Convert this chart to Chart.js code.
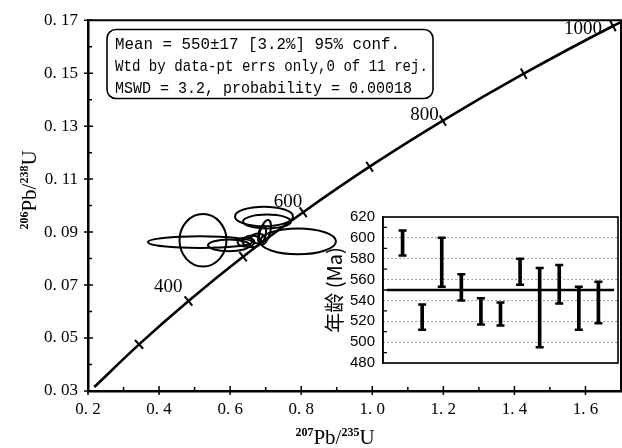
<!DOCTYPE html>
<html>
<head>
<meta charset="utf-8">
<script src="https://cdn.jsdelivr.net/npm/chart.js@4.4.0/dist/chart.umd.min.js"></script>
<style>
html, body { margin: 0; padding: 0; background: #fff; }
#wrap { position: relative; width: 622px; height: 448px; }
#main { position: absolute; left: 0; top: 0; }
#inset { position: absolute; left: 322px; top: 200px; }
</style>
</head>
<body>
<div id="wrap">
<canvas id="main" width="622" height="448"></canvas>
<canvas id="inset" width="300" height="180"></canvas>
</div>
<script>
Chart.defaults.color = '#000'
Chart.defaults.font.family = 'Liberation Serif'

// concordia (207Pb/235U, 206Pb/238U, age Ma)
const concX   = [0.2177, 0.3437, 0.4828, 0.6363, 0.8056, 0.9925, 1.1987, 1.4263, 1.6774, 1.700]
const concY   = [0.0315, 0.0476, 0.0640, 0.0807, 0.0975, 0.1147, 0.1321, 0.1498, 0.1678, 0.1693]
const concAge = [200, 300, 400, 500, 600, 700, 800, 900, 1000, null]
const ageLabels = [400, 600, 800, 1000]

// error ellipses: centre, half-widths, correlation
const ellX   = [0.5236, 0.5152, 0.5968, 0.6447, 0.6615, 0.6953, 0.7038, 0.6981, 0.6897, 0.7910, 0.6784]
const ellY   = [0.0869, 0.0862, 0.0850, 0.0862, 0.0865, 0.0959, 0.0940, 0.0899, 0.0891, 0.0865, 0.0876]
const ellSx  = [0.0661, 0.1463, 0.0591, 0.0239, 0.0267, 0.0816, 0.0675, 0.0169, 0.0113, 0.1069, 0.0197]
const ellSy  = [0.0099, 0.0022, 0.0022, 0.0017, 0.0022, 0.0037, 0.0026, 0.0047, 0.0034, 0.0049, 0.0019]
const ellRho = [0, 0, 0, 0, 0, 0, 0, 0.5, 0.4, 0, 0]

// main axes ticks
const xTicks = [0.2, 0.4, 0.6, 0.8, 1.0, 1.2, 1.4, 1.6]
const xMinor = [0.3, 0.5, 0.7, 0.9, 1.1, 1.3, 1.5]
const yTicks = [0.03, 0.05, 0.07, 0.09, 0.11, 0.13, 0.15, 0.17]
const yMinor = [0.04, 0.06, 0.08, 0.10, 0.12, 0.14, 0.16]

// inset: ages of the 11 spots (Ma)
const spot  = [1, 2, 3, 4, 5, 6, 7, 8, 9, 10, 11]
const ageLo = [583, 512, 553, 540, 517, 516, 555, 495, 537, 512, 518]
const ageHi = [607, 536, 600, 565, 542, 538, 580, 571, 574, 553, 558]
const meanAge = 550
const insetTicks = [480, 500, 520, 540, 560, 580, 600, 620]
const insetMinor = [490, 510, 530, 550, 570, 590, 610]

const boxLines = [
    'Mean = 550±17 [3.2%] 95% conf.',
    'Wtd by data-pt errs only,0 of 11 rej.',
    'MSWD = 3.2, probability = 0.00018'
]

// titulo con superindices
const drawIso = (ctx, parts, cx, cy) => {
    const f = p => p[1] ? 'bold 12px Liberation Serif' : '21px Liberation Serif'
    let w = 0
    parts.forEach(p => { ctx.font = f(p); w += ctx.measureText(p[0]).width })
    let x = cx - w / 2
    parts.forEach(p => {
        ctx.font = f(p)
        ctx.fillText(p[0], x, p[1] ? cy - 8 : cy)
        x += ctx.measureText(p[0]).width
    })
}

const mainDeco = {
    id: 'mainDeco',
    beforeDatasetsDraw(chart) {
        const { ctx, chartArea: a, scales: { x, y } } = chart
        ctx.save()
        ctx.beginPath()
        ctx.rect(a.left, a.top, a.right - a.left, a.bottom - a.top)
        ctx.clip()
        ctx.strokeStyle = '#000'
        ctx.lineWidth = 2
        ellX.forEach((ex, i) => {
            const cx = x.getPixelForValue(ex)
            const cy = y.getPixelForValue(ellY[i])
            const rx = x.getPixelForValue(ex + ellSx[i]) - cx
            const ry = cy - y.getPixelForValue(ellY[i] + ellSy[i])
            const A = rx * rx, C = ry * ry, B = -ellRho[i] * rx * ry
            const th = 0.5 * Math.atan2(2 * B, A - C)
            const m = (A + C) / 2, d = Math.sqrt(((A - C) / 2) ** 2 + B * B)
            ctx.beginPath()
            ctx.ellipse(cx, cy, Math.sqrt(m + d), Math.sqrt(Math.max(m - d, 0.5)), th, 0, Math.PI * 2)
            ctx.stroke()
        })
        ctx.restore()
    },
    afterDraw(chart) {
        const { ctx, chartArea: a, scales: { x, y } } = chart
        ctx.save()
        ctx.strokeStyle = '#000'
        // marcas de los ejes
        ctx.lineWidth = 1.5
        ctx.beginPath()
        xTicks.forEach(v => { const p = x.getPixelForValue(v); ctx.moveTo(p, a.bottom + 4); ctx.lineTo(p, a.bottom - 5) })
        xMinor.forEach(v => { const p = x.getPixelForValue(v); ctx.moveTo(p, a.bottom); ctx.lineTo(p, a.bottom - 4) })
        yTicks.forEach(v => { const p = y.getPixelForValue(v); ctx.moveTo(a.left - 4, p); ctx.lineTo(a.left + 5, p) })
        yMinor.forEach(v => { const p = y.getPixelForValue(v); ctx.moveTo(a.left, p); ctx.lineTo(a.left + 4, p) })
        ctx.stroke()
        // marco superior y derecho
        ctx.lineWidth = 2
        ctx.beginPath()
        ctx.moveTo(a.left, a.top); ctx.lineTo(a.right, a.top); ctx.lineTo(a.right, a.bottom)
        ctx.stroke()

        // edades sobre la concordia
        ctx.fillStyle = '#000'
        ctx.font = '19px Liberation Serif'
        ctx.textAlign = 'right'
        ctx.textBaseline = 'alphabetic'
        const off = { 400: [-6, -9], 600: [-1, -5], 800: [-4, -1], 1000: [-11, 8] }
        ageLabels.forEach(age => {
            const i = concAge.indexOf(age)
            const px = x.getPixelForValue(concX[i]), py = y.getPixelForValue(concY[i])
            ctx.fillText(String(age), px + off[age][0], py + off[age][1])
        })

        // recuadro de resultados
        ctx.lineWidth = 1.6
        ctx.beginPath()
        ctx.roundRect(107, 29.5, 326, 69, 9)
        ctx.stroke()
        ctx.textAlign = 'left'
        ctx.textBaseline = 'middle'
        ctx.font = '17px Liberation Mono'
        const maxW = [285, 313, 297]
        boxLines.forEach((t, i) => ctx.fillText(t, 115, 44 + i * 22, maxW[i]))

        // titulos de ejes
        ctx.textBaseline = 'alphabetic'
        drawIso(ctx, [['207', 1], ['Pb/', 0], ['235', 1], ['U', 0]], 335, 444)
        ctx.translate(29, 190)
        ctx.rotate(-Math.PI / 2)
        drawIso(ctx, [['206', 1], ['Pb/', 0], ['238', 1], ['U', 0]], 0, 7)
        ctx.restore()
    }
}

new Chart('main', {
    type: 'line',
    data: {
        datasets: [{
            data: concX.map((v, i) => ({ x: v, y: concY[i] })),
            borderColor: '#000',
            borderWidth: 2.6,
            cubicInterpolationMode: 'monotone',
            pointStyle: 'line',
            pointRadius: concAge.map(a => (a >= 300 && a <= 1000) ? 6 : 0),
            pointRotation: [0, 47, 50, 52, 54, 56, 59, 61, 62, 0],
            pointBorderColor: '#000',
            pointBorderWidth: 2,
            fill: false
        }]
    },
    options: {
        responsive: false,
        animation: false,
        layout: { padding: { top: 17, right: 1, left: 0, bottom: 0 } },
        plugins: { legend: { display: false }, tooltip: { enabled: false } },
        scales: {
            x: {
                type: 'linear', min: 0.2, max: 1.7,
                afterBuildTicks: s => { s.ticks = xTicks.map(v => ({ value: v })) },
                afterFit: s => { s.height = 57 },
                grid: { display: false, drawTicks: false },
                border: { color: '#000', width: 2.5 },
                ticks: { padding: 8, font: { size: 17 }, maxRotation: 0, callback: v => v.toFixed(1).replace('.', '. ') }
            },
            y: {
                type: 'linear', min: 0.03, max: 0.17,
                afterBuildTicks: s => { s.ticks = yTicks.map(v => ({ value: v })) },
                afterFit: s => { s.width = 88 },
                grid: { display: false, drawTicks: false },
                border: { color: '#000', width: 2.5 },
                ticks: { padding: 10, font: { size: 17 }, callback: v => v.toFixed(2).replace('.', '. ') }
            }
        }
    },
    plugins: [mainDeco]
})

const insetDeco = {
    id: 'insetDeco',
    afterDraw(chart) {
        const { ctx, chartArea: a, scales: { y } } = chart
        ctx.save()
        ctx.strokeStyle = '#000'
        ctx.setLineDash([])
        // topes de las barras de error
        ctx.lineWidth = 2.5
        ctx.beginPath()
        chart.getDatasetMeta(0).data.forEach(b => {
            const p = b.getProps(['x', 'y', 'base'], true);
            [p.y, p.base].forEach(py => { ctx.moveTo(p.x - 4, py); ctx.lineTo(p.x + 4, py) })
        })
        ctx.stroke()
        ctx.lineWidth = 1.3
        ctx.beginPath()
        insetMinor.forEach(v => { const p = y.getPixelForValue(v); ctx.moveTo(a.left, p); ctx.lineTo(a.left + 4, p) })
        ctx.stroke()
        ctx.lineWidth = 1.6
        ctx.strokeRect(a.left, a.top, a.right - a.left, a.bottom - a.top)
        ctx.restore()
    }
}

new Chart('inset', {
    type: 'bar',
    data: {
        datasets: [{
            type: 'bar',
            data: spot.map((s, i) => ({ x: s, y: [ageLo[i], ageHi[i]] })),
            backgroundColor: '#000',
            barThickness: 3
        }, {
            type: 'line',
            data: [{ x: 0.2, y: meanAge }, { x: 11.8, y: meanAge }],
            borderColor: '#000',
            borderWidth: 2.5,
            pointRadius: 0
        }]
    },
    options: {
        responsive: false,
        animation: false,
        layout: { padding: { top: 17, right: 4, bottom: 7, left: 0 } },
        plugins: { legend: { display: false }, tooltip: { enabled: false } },
        scales: {
            x: { type: 'linear', min: 0, max: 12, offset: false, display: false },
            y: {
                min: 480, max: 620,
                afterBuildTicks: s => { s.ticks = insetTicks.map(v => ({ value: v })) },
                afterFit: s => { s.width = 61 },
                grid: { color: '#444', lineWidth: 1, drawTicks: false },
                border: { color: '#000', width: 1.6, dash: [1, 3] },
                ticks: { padding: 8, font: { family: 'Liberation Sans', size: 15 }, color: '#000' },
                title: { display: true, text: '年龄 (Ma)', font: { family: 'Noto Sans CJK SC', size: 20 }, padding: { top: 0, bottom: 0 }, color: '#000' }
            }
        }
    },
    plugins: [insetDeco]
})
</script>
</body>
</html>
